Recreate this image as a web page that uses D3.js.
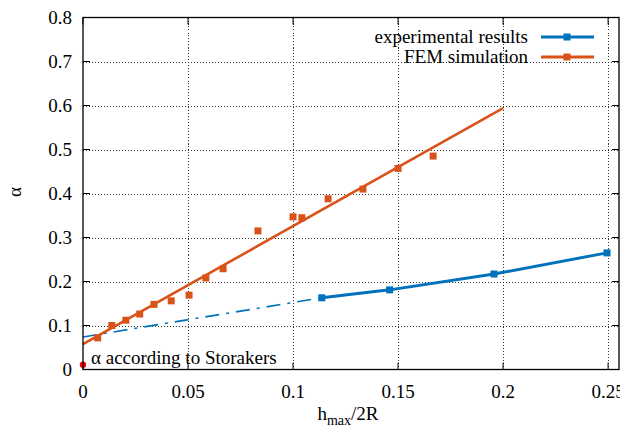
<!DOCTYPE html>
<meta charset="utf-8">
<style>
body { margin: 0; background: #fff; }
</style>
<svg width="620" height="431" font-family="Liberation Serif" style="display:block"></svg>
<script src="https://d3js.org/d3.v7.min.js"></script>
<script>

// FEM simulation points
var femX = [0.007, 0.0137, 0.0204, 0.027, 0.0338, 0.042, 0.0505, 0.0585, 0.0667, 0.0833, 0.1, 0.1042, 0.1167, 0.1333, 0.15, 0.1667];
var femY = [0.072, 0.100, 0.112, 0.126, 0.148, 0.156, 0.169, 0.208, 0.229, 0.315, 0.347, 0.345, 0.388, 0.410, 0.457, 0.485];
// FEM linear fit (end points)
var femFitX = [0, 0.2];
var femFitY = [0.0575, 0.594];

// experimental results
var expX = [0.1137, 0.146, 0.1957, 0.2495];
var expY = [0.163, 0.181, 0.217, 0.265];
// extrapolation of the experiment to h = 0
var expExtX = [0, 0.1137];
var expExtY = [0.074, 0.163];

// Storakers value
var storX = [0];
var storY = [0.011];

var xTicks = [0, 0.05, 0.1, 0.15, 0.2, 0.25];
var yTicks = [0, 0.1, 0.2, 0.3, 0.4, 0.5, 0.6, 0.7, 0.8];
var legendLabels = ["experimental results", "FEM simulation"];

var blue = "#0072bd", orange = "#d95319";

var svg = d3.select("svg"),
    margin = {top: 17.5, right: 1, bottom: 61.5, left: 83},
    width = svg.attr("width") - margin.left - margin.right,
    height = svg.attr("height") - margin.top - margin.bottom;

var x = d3.scaleLinear().domain([0, 0.2552]).range([0, width]);
var y = d3.scaleLinear().domain([0, 0.8]).range([height, 0]);

var g = svg.append("g")
    .attr("transform", "translate(" + margin.left + "," + margin.top + ")");

function label(sel, size) {
  return sel.attr("font-family", "Liberation Serif")
      .style("font-family", "Liberation Serif")
      .style("font-size", size + "px")
      .attr("fill", "#000");
}

// grid
var grid = g.append("g")
    .attr("stroke", "#000").attr("stroke-width", 1).attr("stroke-dasharray", "1,2")
    .attr("shape-rendering", "crispEdges").attr("opacity", 0.8);
grid.selectAll(".gx").data(xTicks.filter(function(d) { return d > 0; })).enter().append("line")
    .attr("x1", function(d) { return Math.round(x(d)) + 0.5; })
    .attr("x2", function(d) { return Math.round(x(d)) + 0.5; })
    .attr("y1", 0).attr("y2", height);
grid.selectAll(".gy").data(yTicks.filter(function(d) { return d > 0 && d < 0.8; })).enter().append("line")
    .attr("y1", function(d) { return Math.round(y(d)) + 0.5; })
    .attr("y2", function(d) { return Math.round(y(d)) + 0.5; })
    .attr("x1", 0).attr("x2", width);

// ticks on all sides, pointing inward
var tl = 7;
xTicks.forEach(function(d) {
  g.append("line").attr("stroke", "#000")
      .attr("x1", x(d)).attr("x2", x(d)).attr("y1", height).attr("y2", height - tl);
  g.append("line").attr("stroke", "#000")
      .attr("x1", x(d)).attr("x2", x(d)).attr("y1", 0).attr("y2", tl);
  label(g.append("text"), 19)
      .attr("x", x(d)).attr("y", height + 28)
      .attr("text-anchor", "middle")
      .text(d3.format("")(d));
});
yTicks.forEach(function(d) {
  g.append("line").attr("stroke", "#000")
      .attr("x1", 0).attr("x2", tl).attr("y1", y(d)).attr("y2", y(d));
  g.append("line").attr("stroke", "#000")
      .attr("x1", width).attr("x2", width - tl).attr("y1", y(d)).attr("y2", y(d));
  label(g.append("text"), 19)
      .attr("x", -11).attr("y", y(d) + 6.5)
      .attr("text-anchor", "end")
      .text(d3.format("")(d));
});

var line = d3.line()
    .x(function(d) { return x(d[0]); })
    .y(function(d) { return y(d[1]); });

// experimental extrapolation (dash-dot)
g.append("path")
    .datum(d3.zip(expExtX, expExtY))
    .attr("d", line)
    .attr("fill", "none")
    .attr("stroke", blue)
    .attr("stroke-width", 1.6)
    .attr("stroke-dasharray", "14,7,3,7");

// FEM fit
g.append("path")
    .datum(d3.zip(femFitX, femFitY))
    .attr("d", line)
    .attr("fill", "none")
    .attr("stroke", orange)
    .attr("stroke-width", 2.6);

// experimental line
g.append("path")
    .datum(d3.zip(expX, expY))
    .attr("d", line)
    .attr("fill", "none")
    .attr("stroke", blue)
    .attr("stroke-width", 3);

var ms = 7;
g.selectAll(".fem").data(d3.zip(femX, femY)).enter().append("rect")
    .attr("x", function(d) { return x(d[0]) - ms / 2; })
    .attr("y", function(d) { return y(d[1]) - ms / 2; })
    .attr("width", ms).attr("height", ms)
    .attr("fill", orange);

g.selectAll(".exp").data(d3.zip(expX, expY)).enter().append("rect")
    .attr("x", function(d) { return x(d[0]) - ms / 2; })
    .attr("y", function(d) { return y(d[1]) - ms / 2; })
    .attr("width", ms).attr("height", ms)
    .attr("fill", blue);

g.selectAll(".stor").data(d3.zip(storX, storY)).enter().append("circle")
    .attr("cx", function(d) { return x(d[0]); })
    .attr("cy", function(d) { return y(d[1]); })
    .attr("r", 3.2)
    .attr("fill", "#ff0000");

label(g.append("text"), 19)
    .attr("x", 8).attr("y", height - 6)
    .text("α according to Storakers");

// frame
g.append("rect")
    .attr("fill", "none").attr("stroke", "#000").attr("stroke-width", 1.3)
    .attr("x", 0).attr("y", 0).attr("width", width).attr("height", height);

// legend
var legend = g.selectAll(".legend").data(legendLabels).enter().append("g")
    .attr("transform", function(d, i) { return "translate(0," + (19.5 + i * 20) + ")"; });
label(legend.append("text"), 19)
    .attr("x", 445).attr("y", 6)
    .attr("text-anchor", "end")
    .text(function(d) { return d; });
legend.append("line")
    .attr("x1", 458).attr("x2", 511).attr("y1", 0).attr("y2", 0)
    .attr("stroke", function(d, i) { return i === 0 ? blue : orange; })
    .attr("stroke-width", 3);
legend.append("rect")
    .attr("x", 484 - ms / 2).attr("y", -ms / 2)
    .attr("width", ms).attr("height", ms)
    .attr("fill", function(d, i) { return i === 0 ? blue : orange; });

// axis labels
label(svg.append("text"), 19)
    .attr("transform", "translate(21,192) rotate(-90)")
    .attr("text-anchor", "middle")
    .text("α");

var xl = label(svg.append("text"), 19)
    .attr("x", 348).attr("y", 420)
    .attr("text-anchor", "middle");
xl.append("tspan").text("h");
xl.append("tspan").attr("dy", 5).style("font-size", "14px").text("max");
xl.append("tspan").attr("dy", -5).text("/2R");

</script>
